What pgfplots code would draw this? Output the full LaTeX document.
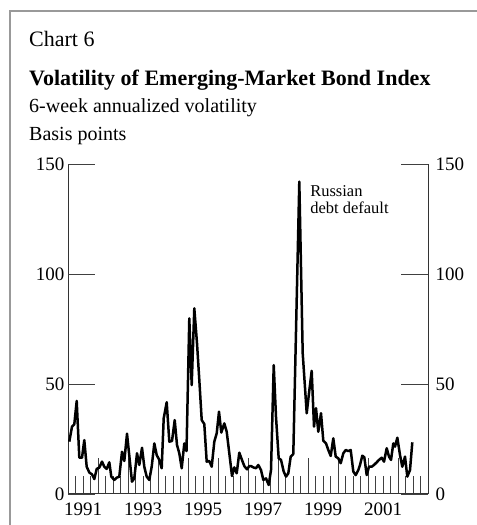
\documentclass[border=0pt]{standalone}
\usepackage{fontspec}
\setmainfont{Liberation Serif}
\usepackage{pgfplots}
\pgfplotsset{compat=1.18}
\pgfplotstableread{
x y
1991.043 23.8
1991.133 30.6
1991.210 31.7
1991.290 42.3
1991.377 16.5
1991.467 16.5
1991.543 24.5
1991.623 12.4
1991.710 9.8
1991.800 8.9
1991.877 6.8
1991.957 11.4
1992.043 12.0
1992.133 14.7
1992.210 12.4
1992.290 11.4
1992.377 14.4
1992.443 7.9
1992.543 6.4
1992.623 7.4
1992.710 7.9
1992.800 19.2
1992.877 15.0
1992.967 27.4
1993.133 5.6
1993.210 7.1
1993.300 18.5
1993.377 13.2
1993.467 21.0
1993.543 12.4
1993.623 7.9
1993.710 6.4
1993.790 12.4
1993.877 23.0
1993.957 17.7
1994.043 15.5
1994.123 11.7
1994.190 34.4
1994.290 41.7
1994.377 23.8
1994.467 24.1
1994.557 33.6
1994.633 22.3
1994.710 18.5
1994.790 11.7
1994.877 23.0
1994.950 19.5
1995.043 79.8
1995.123 49.5
1995.210 84.4
1995.300 68.5
1995.377 51.8
1995.457 33.6
1995.543 31.8
1995.623 14.7
1995.710 15.0
1995.790 12.4
1995.877 23.8
1995.957 27.6
1996.033 37.4
1996.110 27.9
1996.210 32.1
1996.290 28.3
1996.377 18.5
1996.467 8.2
1996.543 12.1
1996.623 9.4
1996.710 18.8
1996.790 15.8
1996.877 12.7
1996.967 11.2
1997.043 12.7
1997.100 12.7
1997.177 12.1
1997.267 11.7
1997.343 13.2
1997.433 10.9
1997.510 6.4
1997.600 7.1
1997.690 4.1
1997.767 10.9
1997.857 58.6
1997.933 35.1
1998.023 16.2
1998.100 15.5
1998.190 10.2
1998.267 7.9
1998.343 9.4
1998.423 17.0
1998.510 18.2
1998.710 142.0
1998.823 64.0
1998.957 36.7
1999.033 45.8
1999.123 56.0
1999.200 30.6
1999.267 39.0
1999.343 28.3
1999.433 36.7
1999.510 24.2
1999.600 23.0
1999.677 20.0
1999.757 17.3
1999.843 25.3
1999.923 17.0
2000.010 16.2
2000.090 14.0
2000.177 18.5
2000.257 20.0
2000.343 19.5
2000.423 20.0
2000.510 10.2
2000.590 8.6
2000.677 10.9
2000.733 13.2
2000.810 17.4
2000.877 16.7
2000.957 8.6
2001.033 12.4
2001.123 12.4
2001.200 13.2
2001.290 14.4
2001.367 15.5
2001.457 16.5
2001.533 14.7
2001.623 20.8
2001.700 17.0
2001.767 15.5
2001.843 23.0
2001.900 21.5
2001.977 25.6
2002.067 17.7
2002.143 12.4
2002.233 17.0
2002.310 7.9
2002.400 10.9
2002.477 23.5
}\voldata
\begin{document}
\begin{tikzpicture}[x=1bp,y=1bp]
\useasboundingbox (0,0) rectangle (477,525);
\draw[black!40, line width=1.2bp] (10,0) -- (10,514) -- (477,514);
\node[anchor=base west, inner sep=0, font=\fontsize{22bp}{25bp}\selectfont] at (29,478.3) {Chart 6};
\node[anchor=base west, inner sep=0, font=\fontsize{22bp}{25bp}\selectfont\bfseries] at (29,439.3) {Volatility of Emerging-Market Bond Index};
\node[anchor=base west, inner sep=0, font=\fontsize{20bp}{22bp}\selectfont] at (29,412) {6-week annualized volatility};
\node[anchor=base west, inner sep=0, font=\fontsize{20bp}{22bp}\selectfont] at (29,384.5) {Basis points};
\begin{axis}[
  at={(68bp,31bp)}, anchor=south west, scale only axis,
  width=360bp, height=330bp,
  xmin=1991, xmax=2003, ymin=0, ymax=150,
  axis x line=bottom, axis y line=box,
  axis line style={-, black!80, line width=1bp},
  xtick align=inside, ytick align=inside,
  major tick length=36bp, minor tick length=18bp,
  every tick/.style={black!75, line width=0.8bp},
  xtick={1991,...,2003}, xticklabels={},
  minor xtick={1991.25,1991.5,1991.75,1992.25,1992.5,1992.75,1993.25,1993.5,1993.75,1994.25,1994.5,1994.75,1995.25,1995.5,1995.75,1996.25,1996.5,1996.75,1997.25,1997.5,1997.75,1998.25,1998.5,1998.75,1999.25,1999.5,1999.75,2000.25,2000.5,2000.75,2001.25,2001.5,2001.75,2002.25,2002.5,2002.75},
  ytick=\empty,
  extra x ticks={1991.5,1993.5,1995.5,1997.5,1999.5,2001.5},
  extra x tick labels={1991,1993,1995,1997,1999,2001},
  extra x tick style={major tick length=0pt, tick label style={yshift=-5bp}},
  extra y ticks={0,50,100,150},
  extra y tick labels={0,50,100,150},
  extra y tick style={major tick length=27bp},
  tick label style={font=\fontsize{19bp}{21bp}\selectfont},
  clip=false,
]
\addplot[black, line width=2.5bp, line join=round, no markers] table {\voldata};
\node[anchor=base west, inner sep=0, font=\fontsize{16.5bp}{19bp}\selectfont] at (axis cs:1999.07,135) {Russian};
\node[anchor=base west, inner sep=0, font=\fontsize{16.5bp}{19bp}\selectfont] at (axis cs:1999.07,127.3) {debt default};
\end{axis}
\begin{axis}[
  at={(68bp,31bp)}, anchor=south west, scale only axis,
  width=360bp, height=330bp,
  xmin=1991, xmax=2003, ymin=0, ymax=150,
  axis x line=none, axis y line*=right,
  y axis line style={draw=none},
  ytick={0,50,100,150}, yticklabels={0,50,100,150},
  major tick length=0pt, ytick style={draw=none},
  tick label style={font=\fontsize{19bp}{21bp}\selectfont, xshift=4bp},
]
\end{axis}
\end{tikzpicture}
\end{document}
